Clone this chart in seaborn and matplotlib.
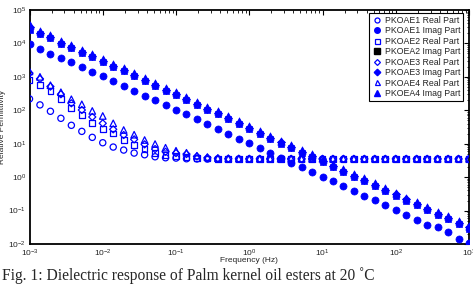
import numpy as np
import pandas as pd
import matplotlib
matplotlib.use("Agg")
import matplotlib.pyplot as plt
from matplotlib.lines import Line2D
from matplotlib.ticker import LogLocator, LogFormatterMathtext, NullFormatter
import seaborn as sns

# ---------------- data ----------------
freq_exp = [-3 + k / 7 for k in range(43)]  # measurement grid, 7 points per decade
frequency = [10 ** e for e in freq_exp]

pkoae1_real = [219, 145, 93.3, 57.5, 35.5, 23.4, 15.5, 10.7, 7.94, 6.46, 5.25, 4.68, 4.07, 3.80, 3.72,
               3.55, 3.50, 3.48, 3.47, 3.46, 3.46, 3.45, 3.45, 3.45, 3.45, 3.44, 3.44, 3.44, 3.44, 3.44,
               3.44, 3.44, 3.44, 3.44, 3.44, 3.44, 3.44, 3.44, 3.44, 3.44, 3.44, 3.44, 3.44]
pkoae1_imag = [9770, 6920, 4900, 3720, 2820, 2000, 1410, 1070, 759, 537, 380, 269, 204, 145, 102,
               77.6, 55.0, 38.9, 27.5, 19.5, 13.8, 10.5, 7.41, 5.25, 3.72, 2.69, 2.04, 1.46, 1.03, 0.759,
               0.550, 0.389, 0.282, 0.204, 0.148, 0.105, 0.0759, 0.0537, 0.0363, 0.0316, 0.0234, 0.0141, 0.0105]
pkoae2_real = [813, 575, 372, 214, 115, 70.8, 42.7, 28.2, 20.4, 12.9, 9.33, 6.92, 5.25, 4.68, 4.37,
               4.07, 3.80, 3.63, 3.55, 3.52, 3.50, 3.50, 3.50, 3.49, 3.49, 3.49, 3.49, 3.49, 3.49, 3.49,
               3.49, 3.49, 3.49, 3.49, 3.49, 3.49, 3.49, 3.49, 3.49, 3.49, 3.49, 3.49, 3.49]
pkoea2_imag = [25700, 19000, 14500, 9550, 7240, 5130, 3890, 2750, 1950, 1480, 1050, 741, 525, 372, 282,
               200, 141, 100, 75.9, 53.7, 38.0, 26.9, 19.1, 13.5, 10.0, 7.41, 5.25, 3.89, 2.82, 2.00,
               1.41, 1.00, 0.741, 0.537, 0.380, 0.282, 0.200, 0.145, 0.105, 0.0741, 0.0562, 0.0398, 0.0288]
pkoae3_real = [1290, 871, 513, 302, 162, 102, 63.1, 40.7, 26.9, 18.2, 13.5, 9.55, 6.92, 5.75, 5.25,
               4.90, 4.17, 3.80, 3.63, 3.58, 3.55, 3.54, 3.53, 3.53, 3.52, 3.52, 3.52, 3.52, 3.52, 3.52,
               3.52, 3.52, 3.52, 3.52, 3.52, 3.52, 3.52, 3.52, 3.52, 3.52, 3.52, 3.52, 3.52]
pkoae3_imag = [31600, 20900, 15800, 10500, 7940, 5620, 4270, 3020, 2140, 1620, 1150, 813, 575, 407, 309,
               219, 155, 110, 83.2, 58.9, 41.7, 29.5, 20.9, 14.8, 11.0, 8.13, 5.75, 4.27, 3.09, 2.19,
               1.55, 1.10, 0.813, 0.589, 0.417, 0.309, 0.219, 0.158, 0.115, 0.0813, 0.0617, 0.0437, 0.0316]
pkoae4_real = [1450, 1000, 562, 347, 214, 151, 95.5, 67.6, 40.7, 25.7, 18.6, 12.9, 9.77, 7.59, 6.17,
               5.37, 4.37, 3.98, 3.72, 3.63, 3.58, 3.56, 3.55, 3.55, 3.55, 3.55, 3.55, 3.55, 3.55, 3.55,
               3.55, 3.55, 3.55, 3.55, 3.55, 3.55, 3.55, 3.55, 3.55, 3.55, 3.55, 3.55, 3.55]
pkoea4_imag = [36300, 23400, 17800, 11700, 8910, 6310, 4790, 3390, 2400, 1820, 1290, 912, 646, 457, 347,
               245, 174, 123, 93.3, 66.1, 46.8, 33.1, 23.4, 16.6, 12.3, 9.12, 6.46, 4.79, 3.47, 2.45,
               1.74, 1.23, 0.912, 0.661, 0.468, 0.347, 0.245, 0.178, 0.129, 0.0912, 0.0692, 0.0490, 0.0355]

series_names = ["PKOAE1 Real Part", "PKOAE1 Imag Part", "PKOAE2 Real Part", "PKOEA2 Imag Part",
                "PKOAE3 Real Part", "PKOAE3 Imag Part", "PKOAE4 Real Part", "PKOEA4 Imag Part"]
series_values = [pkoae1_real, pkoae1_imag, pkoae2_real, pkoea2_imag,
                 pkoae3_real, pkoae3_imag, pkoae4_real, pkoea4_imag]

x_label = "Frequency (Hz)"
y_label = "Relative Permittivity"
caption = "Fig. 1: Dielectric response of Palm kernel oil esters at 20 \u02daC"

# ---------------- style ----------------
sns.set_style("white")
plt.rcParams["font.family"] = ["Liberation Sans", "DejaVu Sans"]
plt.rcParams["mathtext.fontset"] = "custom"
plt.rcParams["mathtext.rm"] = "Liberation Sans"
plt.rcParams["mathtext.it"] = "Liberation Sans:italic"
plt.rcParams["mathtext.bf"] = "Liberation Sans:bold"

BLUE = "#0000ff"
# marker, filled?, size, legend colour
styles = [("o", False, 20, BLUE), ("o", True, 26, BLUE), ("s", False, 17, BLUE), ("s", True, 22, "black"),
          ("D", False, 13, BLUE), ("D", True, 17, BLUE), ("^", False, 22, BLUE), ("^", True, 28, BLUE)]

rows = []
for name, vals in zip(series_names, series_values):
    for f, v in zip(frequency, vals):
        rows.append({"series": name, "frequency": f, "value": v})
df = pd.DataFrame(rows)

fig = plt.figure(figsize=(4.73, 2.84), dpi=100)
L, R, T, B = 29.5, 469.0, 10.0, 244.0
ax = fig.add_axes([L / 473, 1 - B / 284, (R - L) / 473, (B - T) / 284])

handles = []
for name, (mk, filled, sz, lcol) in zip(series_names, styles):
    sub = df[df["series"] == name]
    if filled:
        sns.scatterplot(data=sub, x="frequency", y="value", ax=ax, marker=mk, s=sz,
                        color=BLUE, edgecolor=BLUE, linewidth=0.5, legend=False, zorder=3)
        handles.append(Line2D([], [], linestyle="none", marker=mk, markersize=4 if mk != "D" else 3.3,
                              markerfacecolor=lcol, markeredgecolor=lcol, label=name))
    else:
        sns.scatterplot(data=sub, x="frequency", y="value", ax=ax, marker=mk, s=sz,
                        facecolors="none", edgecolor=BLUE, linewidth=0.9, legend=False, zorder=3)
        handles.append(Line2D([], [], linestyle="none", marker=mk, markersize=3.6 if mk != "D" else 3.0,
                              markerfacecolor="none", markeredgecolor=lcol, markeredgewidth=0.9, label=name))

ax.set_xscale("log")
ax.set_yscale("log")
ax.set_xlim(1e-3, 1e3)
ax.set_ylim(1e-2, 1e5)

ax.xaxis.set_major_locator(LogLocator(base=10, numticks=20))
ax.xaxis.set_minor_locator(LogLocator(base=10, subs=np.arange(2, 10), numticks=20))
ax.yaxis.set_major_locator(LogLocator(base=10, numticks=20))
ax.yaxis.set_minor_locator(LogLocator(base=10, subs=np.arange(2, 10), numticks=20))
ax.xaxis.set_major_formatter(LogFormatterMathtext())
ax.yaxis.set_major_formatter(LogFormatterMathtext())
ax.xaxis.set_minor_formatter(NullFormatter())
ax.yaxis.set_minor_formatter(NullFormatter())

ax.tick_params(which="both", direction="in", top=True, right=True, labelsize=6, color="black")
ax.tick_params(which="major", length=3.5, width=0.8, pad=2.5)
ax.tick_params(which="minor", length=1.8, width=0.6)
for sp in ax.spines.values():
    sp.set_color("black")
    sp.set_linewidth(1.3)

ax.set_xlabel(x_label, fontsize=6)
ax.xaxis.set_label_coords(0.5, -(257.5 - B) / (B - T))
ax.set_ylabel(y_label, fontsize=6)
ax.yaxis.set_label_coords(-(L - 6) / (R - L), 0.5)

leg = ax.legend(handles=handles, loc="upper right",
                bbox_to_anchor=((463 - L) / (R - L), 1 - (13 - T) / (B - T)),
                fontsize=6.3, frameon=True, fancybox=False,
                borderaxespad=0.0, handletextpad=0.3, handlelength=1.2, labelspacing=0.17,
                borderpad=0.3, framealpha=1)
leg.get_frame().set_edgecolor("black")
leg.get_frame().set_linewidth(0.8)

fig.text(0.004, 0.014, caption, fontsize=11.2, family=["Liberation Serif", "DejaVu Serif"],
         ha="left", va="baseline")

fig.savefig("out.png", dpi=100)
